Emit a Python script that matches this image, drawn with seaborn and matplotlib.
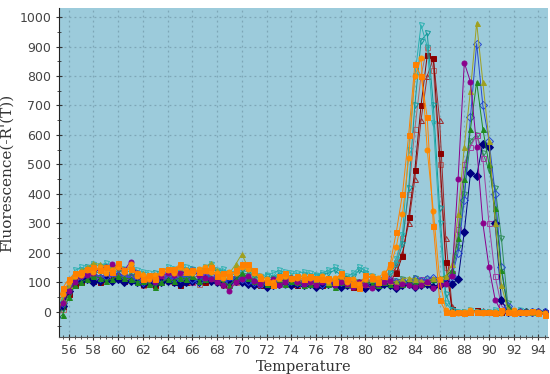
import numpy as np
import pandas as pd
import matplotlib
matplotlib.use("Agg")
import matplotlib.pyplot as plt
import seaborn as sns
from matplotlib.ticker import MultipleLocator

# melt curve, 55.0 .. 94.5 C in 0.5 C steps
temps = np.arange(55.0, 95.0, 0.5)

# group peaking near 84-85 C
orange_sq = [20, 80, 110, 130, 135, 145, 150, 140, 150, 135,
             165, 140, 145, 130, 110, 125, 110, 140, 145, 145,
             160, 135, 140, 135, 140, 150, 120, 130, 120, 140,
             160, 160, 140, 115, 100, 90, 120, 130, 115, 120,
             110, 120, 115, 110, 115, 100, 130, 110, 95, 80,
             125, 115, 100, 120, 160, 270, 400, 600, 840, 800,
             660, 290, 40, 0, -5, 0, -5, 0, -2, 0,
             0, -5, 5, 0, -5, 0, 0, 2, -5, -10]
orange_ci = [10, 60, 100, 120, 125, 140, 135, 150, 130, 140,
             150, 135, 160, 120, 125, 110, 125, 130, 140, 130,
             150, 140, 130, 145, 150, 135, 130, 115, 135, 130,
             150, 145, 130, 120, 110, 100, 115, 120, 110, 115,
             120, 115, 110, 120, 105, 115, 120, 100, 110, 95,
             110, 120, 115, 130, 150, 220, 330, 520, 800, 860,
             550, 340, 110, 5, 0, -5, 0, 5, 0, -5,
             0, 0, -5, 0, 5, 0, -5, 0, 0, -5]
teal_a = [-10, 50, 90, 140, 150, 145, 160, 155, 165, 150,
          155, 145, 150, 140, 135, 130, 120, 135, 150, 145,
          140, 150, 135, 140, 150, 160, 140, 145, 130, 140,
          150, 140, 130, 120, 125, 130, 140, 135, 130, 130,
          135, 130, 125, 130, 140, 150, 135, 120, 130, 150,
          140, 120, 110, 120, 130, 180, 260, 550, 800, 973,
          900, 640, 300, 30, 5, 0, 0, 5, 0, 0,
          0, 5, 0, 0, 0, 5, 0, 0, 0, -5]
teal_b = [-20, 30, 80, 120, 140, 150, 155, 140, 150, 145,
          150, 130, 140, 125, 115, 120, 130, 125, 140, 135,
          130, 140, 145, 130, 140, 150, 135, 130, 120, 130,
          140, 135, 125, 110, 120, 115, 130, 125, 115, 110,
          125, 115, 120, 125, 130, 140, 125, 110, 120, 140,
          130, 110, 105, 115, 130, 160, 230, 420, 700, 920,
          945, 700, 350, 60, 5, 0, 0, 0, 0, 0,
          0, 0, 0, 5, 0, 0, 0, 0, -5, 0]
darkred = [-20, 20, 60, 90, 100, 110, 105, 100, 110, 120,
           115, 105, 110, 100, 95, 100, 90, 100, 110, 100,
           90, 100, 105, 110, 100, 115, 105, 95, 100, 110,
           105, 100, 95, 90, 100, 95, 100, 105, 95, 90,
           100, 95, 100, 90, 105, 95, 100, 90, 85, 95,
           100, 90, 95, 100, 105, 130, 190, 320, 480, 700,
           870, 860, 540, 170, 10, 0, 0, 0, 5, 0,
           0, 0, 0, 0, 0, 0, 0, 0, 0, 0]
rosy = [-30, 10, 70, 100, 110, 115, 120, 110, 120, 125,
        120, 110, 120, 105, 90, 95, 100, 110, 105, 110,
        100, 110, 100, 95, 115, 120, 100, 90, 95, 100,
        110, 105, 100, 95, 90, 95, 100, 110, 100, 95,
        105, 100, 90, 100, 95, 105, 110, 100, 95, 90,
        95, 100, 110, 120, 135, 170, 250, 400, 620, 800,
        900, 820, 500, 150, 10, 0, 0, 0, 0, 0,
        0, 0, 0, 0, 0, 0, 0, 0, 0, 0]
brown = [-10, 40, 90, 110, 120, 125, 130, 120, 125, 115,
         130, 120, 125, 115, 110, 105, 115, 120, 110, 115,
         110, 120, 115, 120, 125, 115, 110, 105, 115, 120,
         125, 115, 110, 100, 105, 110, 100, 115, 105, 100,
         110, 105, 115, 100, 110, 105, 115, 105, 100, 105,
         110, 105, 100, 110, 120, 150, 200, 300, 450, 650,
         800, 860, 650, 250, 20, 0, 0, 0, 0, 5,
         0, 0, 0, 0, 0, 0, 0, 0, 0, 0]

# group peaking near 88-90 C
olive = [-10, 40, 90, 120, 140, 150, 165, 160, 155, 150,
         160, 145, 150, 135, 130, 120, 115, 130, 140, 130,
         135, 145, 140, 135, 150, 165, 140, 125, 130, 160,
         195, 150, 135, 110, 100, 105, 115, 110, 120, 115,
         110, 105, 110, 115, 100, 110, 115, 100, 95, 100,
         95, 110, 100, 110, 105, 100, 110, 115, 110, 105,
         100, 115, 110, 120, 160, 330, 560, 750, 980, 780,
         580, 300, 90, 10, 0, 0, 0, 0, 0, -5]
blue = [-20, 30, 80, 110, 120, 130, 125, 115, 120, 130,
        125, 120, 115, 110, 100, 110, 105, 115, 120, 110,
        115, 120, 110, 105, 115, 120, 110, 100, 105, 115,
        110, 105, 100, 95, 100, 105, 100, 95, 105, 100,
        95, 100, 105, 95, 100, 95, 100, 105, 90, 95,
        100, 95, 100, 110, 105, 100, 105, 100, 110, 105,
        110, 115, 100, 105, 120, 200, 380, 660, 910, 700,
        580, 400, 150, 20, 0, 0, 0, 0, 0, 0]
purple = [-15, 30, 70, 100, 120, 125, 130, 145, 150, 160,
          150, 140, 170, 130, 115, 110, 100, 120, 130, 125,
          130, 135, 140, 125, 115, 110, 100, 90, 70, 100,
          110, 120, 105, 95, 100, 110, 90, 100, 115, 100,
          95, 100, 90, 100, 110, 90, 100, 95, 85, 100,
          90, 80, 95, 100, 105, 85, 95, 90, 85, 90,
          100, 80, 90, 95, 120, 450, 845, 780, 560, 300,
          150, 40, 0, 0, 0, 0, 0, 0, 0, -5]
green = [-30, -10, 50, 90, 100, 110, 120, 115, 105, 110,
         120, 115, 110, 100, 105, 95, 85, 100, 110, 105,
         115, 110, 120, 105, 110, 115, 105, 100, 90, 110,
         130, 115, 105, 100, 95, 90, 100, 95, 105, 100,
         90, 95, 100, 110, 95, 85, 100, 95, 90, 100,
         105, 95, 90, 100, 95, 100, 95, 105, 100, 95,
         100, 110, 115, 120, 140, 250, 450, 620, 780, 620,
         500, 350, 140, 15, 0, 0, 5, 0, 0, 0]
navy = [-20, 20, 70, 100, 105, 110, 100, 105, 110, 105,
        110, 100, 105, 100, 95, 100, 95, 100, 105, 100,
        95, 100, 105, 100, 110, 105, 100, 95, 100, 105,
        100, 95, 90, 95, 85, 90, 95, 100, 90, 95,
        90, 95, 85, 90, 95, 90, 85, 90, 95, 90,
        80, 90, 85, 95, 90, 80, 90, 95, 85, 90,
        95, 85, 90, 100, 95, 110, 270, 470, 460, 570,
        560, 300, 40, 0, 0, 0, 0, 0, 0, 0]
seagreen = [-20, 10, 60, 100, 120, 125, 130, 135, 125, 130,
            140, 130, 120, 125, 110, 105, 120, 125, 115, 130,
            120, 115, 125, 130, 120, 115, 110, 100, 105, 115,
            125, 120, 110, 105, 100, 110, 105, 100, 110, 105,
            100, 105, 110, 100, 110, 105, 100, 110, 105, 100,
            110, 100, 105, 110, 100, 105, 110, 100, 115, 105,
            110, 100, 105, 110, 130, 220, 400, 580, 600, 540,
            480, 420, 250, 30, 0, 0, 0, 0, 0, 0]
magenta = [-10, 30, 80, 110, 115, 120, 110, 115, 125, 120,
           115, 120, 110, 100, 105, 115, 110, 100, 110, 115,
           110, 105, 100, 110, 120, 115, 105, 100, 95, 105,
           115, 110, 100, 95, 105, 100, 95, 105, 100, 95,
           100, 95, 100, 105, 95, 100, 95, 90, 100, 95,
           100, 105, 95, 100, 110, 100, 105, 95, 100, 110,
           105, 110, 100, 105, 130, 280, 500, 560, 600, 520,
           300, 120, 20, 0, 0, 0, 0, 0, 0, 0]

# name -> (values, colour, marker, filled)
series = [
    ("rosy", rosy, "#b06a6a", "s", False),
    ("brown", brown, "#9e2b2b", "^", False),
    ("darkred", darkred, "#8b0000", "s", True),
    ("teal_b", teal_b, "#119a9a", "v", False),
    ("teal_a", teal_a, "#2bb0b0", "v", False),
    ("seagreen", seagreen, "#2e8b57", "v", False),
    ("magenta", magenta, "#a040a0", "s", False),
    ("navy", navy, "#000080", "D", True),
    ("blue", blue, "#2a48d0", "D", False),
    ("green", green, "#1f8a1f", "^", True),
    ("olive", olive, "#a0a020", "^", True),
    ("purple", purple, "#8b008b", "o", True),
    ("orange_ci", orange_ci, "#ff8c00", "o", True),
    ("orange_sq", orange_sq, "#ff8000", "s", True),
]

sns.set_style("ticks")
fig, ax = plt.subplots(figsize=(5.5, 3.74), dpi=100)
fig.subplots_adjust(left=0.107, right=0.997, top=0.978, bottom=0.1)
ax.set_facecolor("#9ccbdb")

for name, vals, col, mk, filled in series:
    df = pd.DataFrame({"Temperature": temps, "Fluorescence": vals})
    sns.lineplot(data=df, x="Temperature", y="Fluorescence", ax=ax,
                 color=col, linewidth=0.7, marker=mk, markersize=3.6,
                 markerfacecolor=col if filled else "none",
                 markeredgecolor=col, markeredgewidth=0.7)

ax.set_xlim(55.2, 94.8)
ax.set_ylim(-85, 1030)
ax.xaxis.set_major_locator(MultipleLocator(2))
ax.xaxis.set_minor_locator(MultipleLocator(0.5))
ax.yaxis.set_major_locator(MultipleLocator(100))
ax.yaxis.set_minor_locator(MultipleLocator(50))
ax.grid(True, which="major", color="#7da6b6", linestyle=(0, (1.5, 2.5)), linewidth=0.9)
ax.set_axisbelow(True)

for side in ["top", "right"]:
    ax.spines[side].set_visible(False)
ax.spines["left"].set_color("#222222")
ax.spines["bottom"].set_color("#555555")
ax.tick_params(axis="both", which="major", labelsize=9, labelcolor="#444444",
               direction="inout", length=4, width=0.8, color="#333333")
ax.tick_params(axis="both", which="minor", direction="inout", length=3,
               width=0.6, color="#333333")

ax.set_ylabel("Fluorescence(-R'(T))", family="DejaVu Serif", fontsize=11,
              color="#333333", labelpad=4)
ax.set_xlabel("Temperature", family="DejaVu Serif", fontsize=10.5,
              color="#333333", labelpad=2)

fig.savefig("out.png", dpi=100)
